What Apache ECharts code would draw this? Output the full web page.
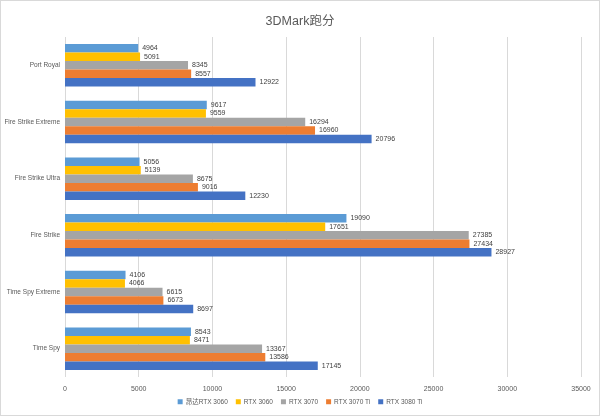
<!DOCTYPE html>
<html><head><meta charset="utf-8">
<script src="https://cdn.jsdelivr.net/npm/echarts@6/dist/echarts.min.js"></script>
<style>html,body{margin:0;padding:0;background:#fff}#c{width:600px;height:416px;box-sizing:border-box;border:1px solid #d9d9d9}</style>
</head><body><div id="c"></div>
<script>
const categories = ['Port Royal','Fire Strike Extreme','Fire Strike Ultra','Fire Strike','Time Spy Extreme','Time Spy'];
const seriesNames = ['昂达RTX 3060','RTX 3060','RTX 3070','RTX 3070 Ti','RTX 3080 Ti'];
const onda3060 = [4964, 9617, 5056, 19090, 4106, 8543];
const rtx3060 = [5091, 9559, 5139, 17651, 4066, 8471];
const rtx3070 = [8345, 16294, 8675, 27385, 6615, 13367];
const rtx3070ti = [8557, 16960, 9016, 27434, 6673, 13586];
const rtx3080ti = [12922, 20796, 12230, 28927, 8697, 17145];
const colors = ['#5B9BD5','#FFC000','#A5A5A5','#ED7D31','#4472C4'];
const allData = [onda3060, rtx3060, rtx3070, rtx3070ti, rtx3080ti];
const chart = echarts.init(document.getElementById('c'));
const font = '"Liberation Sans", "Noto Sans CJK SC", sans-serif';
chart.setOption({
  animation:false,
  title:{text:'3DMark跑分',left:'center',top:9,textStyle:{fontSize:12.5,fontWeight:'normal',color:'#595959',fontFamily:font}},
  legend:{bottom:5,itemWidth:5,itemHeight:5,itemGap:8,icon:'rect',textStyle:{fontSize:6.5,color:'#595959',fontFamily:font,padding:[0,0,0,-2]}},
  grid:{left:64,right:18,top:36,bottom:38,containLabel:false,outerBoundsMode:'none'},
  xAxis:{type:'value',min:0,max:35000,interval:5000,
    axisLabel:{fontSize:7,color:'#595959',fontFamily:font,margin:9,formatter:v=>String(v)},
    splitLine:{lineStyle:{color:'#d9d9d9'}},axisLine:{show:false},axisTick:{show:false}},
  yAxis:{type:'category',data:categories,inverse:true,
    axisLabel:{fontSize:6.5,color:'#595959',fontFamily:font,margin:5},
    axisLine:{show:false},axisTick:{show:false}},
  color:colors,
  series: seriesNames.map((n,i)=>({name:n,type:'bar',data:allData[i],barGap:'0%',barCategoryGap:'25%',
    label:{show:true,position:'right',fontSize:7,color:'#404040',fontFamily:font,distance:4}}))
});
</script></body></html>
